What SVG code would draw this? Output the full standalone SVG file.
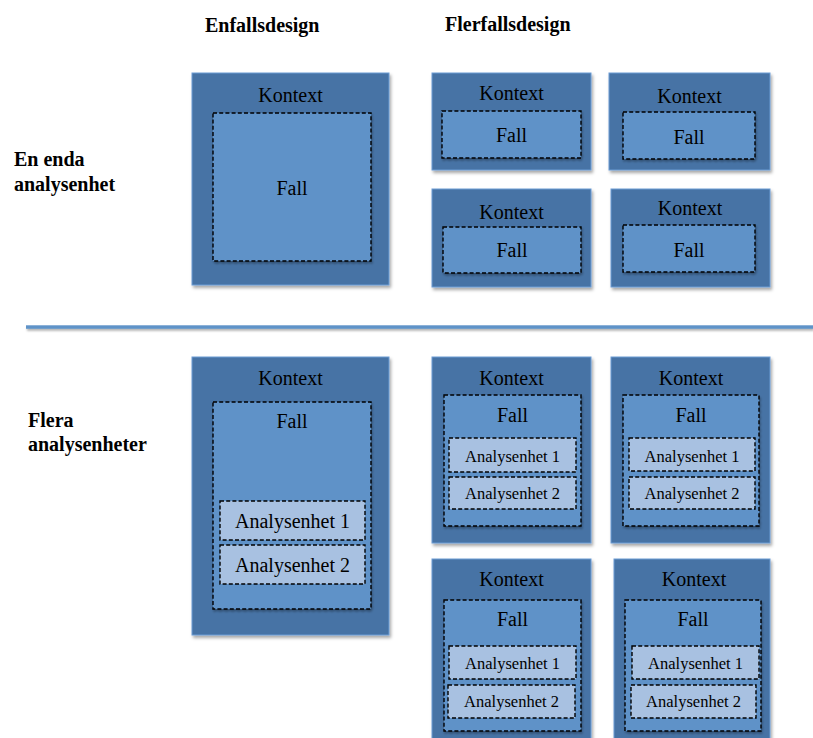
<svg xmlns="http://www.w3.org/2000/svg" width="813" height="738" viewBox="0 0 813 738">
<defs>
<filter id="sh" x="-10%" y="-10%" width="125%" height="125%">
<feDropShadow dx="1.5" dy="2.5" stdDeviation="1.5" flood-color="#000" flood-opacity="0.35"/>
</filter>
<filter id="sh2" x="-10%" y="-10%" width="125%" height="130%">
<feDropShadow dx="1" dy="2" stdDeviation="1.2" flood-color="#000" flood-opacity="0.3"/>
</filter>
<filter id="shl" filterUnits="userSpaceOnUse" x="20" y="318" width="800" height="18">
<feDropShadow dx="1" dy="2" stdDeviation="1.2" flood-color="#000" flood-opacity="0.3"/>
</filter>
</defs>
<style>
.ctx{fill:#4673a5;stroke:#6d9cd3;stroke-width:1;filter:url(#sh)}
.fall{fill:#5e92c8;stroke:#000;stroke-width:1.4;stroke-dasharray:4 2.2;filter:url(#sh2)}
.au{fill:#a8c1e1;stroke:#000;stroke-width:1.4;stroke-dasharray:4 2.2}
.t{font-family:"Liberation Serif","Times New Roman",serif;font-size:20px;fill:#000;text-anchor:middle}
.ts{font-family:"Liberation Serif","Times New Roman",serif;font-size:16.5px;fill:#000;text-anchor:middle}
.h{font-family:"Liberation Serif","Times New Roman",serif;font-size:20px;font-weight:bold;fill:#000}
</style>
<g id="headings">
<text class="h" x="205" y="32">Enfallsdesign</text>
<text class="h" x="445" y="31">Flerfallsdesign</text>
<text class="h" x="14" y="166">En enda</text>
<text class="h" x="14" y="191">analysenhet</text>
<text class="h" x="28" y="427">Flera</text>
<text class="h" x="28" y="451">analysenheter</text>
</g>
<g id="separator">
<rect x="26" y="325.3" width="787" height="3.5" fill="#5f93c8" filter="url(#shl)"/>
</g>
<!-- Top row: single unit -->
<g id="s1">
<rect class="ctx" x="192" y="73" width="197" height="212"/>
<text class="t" x="290.5" y="102">Kontext</text>
<rect class="fall" x="213" y="113" width="158" height="148"/>
<text class="t" x="292" y="195">Fall</text>
</g>
<g id="m1">
<rect class="ctx" x="432" y="73" width="159" height="97"/>
<text class="t" x="511.5" y="100">Kontext</text>
<rect class="fall" x="442" y="111" width="139" height="47"/>
<text class="t" x="511.5" y="142">Fall</text>
</g>
<g id="m2">
<rect class="ctx" x="609" y="73" width="161" height="97"/>
<text class="t" x="689.5" y="103">Kontext</text>
<rect class="fall" x="623" y="112" width="132" height="47"/>
<text class="t" x="689" y="144">Fall</text>
</g>
<g id="m3">
<rect class="ctx" x="432" y="189" width="159" height="98"/>
<text class="t" x="511.5" y="219">Kontext</text>
<rect class="fall" x="443" y="227" width="138" height="46"/>
<text class="t" x="512" y="257">Fall</text>
</g>
<g id="m4">
<rect class="ctx" x="611" y="189" width="159" height="98"/>
<text class="t" x="690" y="215">Kontext</text>
<rect class="fall" x="623" y="225" width="132" height="47"/>
<text class="t" x="689" y="257">Fall</text>
</g>
<!-- Bottom row: multiple units -->
<g id="s2">
<rect class="ctx" x="192" y="357" width="197" height="278"/>
<text class="t" x="290.5" y="385">Kontext</text>
<rect class="fall" x="213" y="402" width="158" height="207"/>
<text class="t" x="292" y="428">Fall</text>
<rect class="au" x="220" y="501" width="145" height="39"/>
<text class="t" x="292.5" y="528">Analysenhet 1</text>
<rect class="au" x="220" y="545" width="145" height="39"/>
<text class="t" x="292.5" y="572">Analysenhet 2</text>
</g>
<g id="m5">
<rect class="ctx" x="432" y="357" width="159" height="186"/>
<text class="t" x="511.5" y="385">Kontext</text>
<rect class="fall" x="444" y="395" width="137" height="131"/>
<text class="t" x="512.5" y="422">Fall</text>
<rect class="au" x="449" y="438" width="127" height="34"/>
<text class="ts" x="512.5" y="462">Analysenhet 1</text>
<rect class="au" x="449" y="477" width="127" height="32"/>
<text class="ts" x="512.5" y="499">Analysenhet 2</text>
</g>
<g id="m6">
<rect class="ctx" x="611" y="357" width="159" height="186"/>
<text class="t" x="691" y="385">Kontext</text>
<rect class="fall" x="623" y="395" width="136" height="131"/>
<text class="t" x="691" y="422">Fall</text>
<rect class="au" x="629" y="438" width="126" height="33"/>
<text class="ts" x="692" y="462">Analysenhet 1</text>
<rect class="au" x="629" y="477" width="126" height="32"/>
<text class="ts" x="692" y="499">Analysenhet 2</text>
</g>
<g id="m7">
<rect class="ctx" x="432" y="559" width="159" height="190"/>
<text class="t" x="511.5" y="586">Kontext</text>
<rect class="fall" x="444" y="600" width="137" height="131"/>
<text class="t" x="512.5" y="626">Fall</text>
<rect class="au" x="449" y="646" width="127" height="33"/>
<text class="ts" x="512.5" y="669">Analysenhet 1</text>
<rect class="au" x="448" y="685" width="127" height="33"/>
<text class="ts" x="511.5" y="707">Analysenhet 2</text>
</g>
<g id="m8">
<rect class="ctx" x="614" y="559" width="156" height="190"/>
<text class="t" x="694" y="586">Kontext</text>
<rect class="fall" x="625" y="600" width="136" height="131"/>
<text class="t" x="693" y="626">Fall</text>
<rect class="au" x="632" y="646" width="127" height="33"/>
<text class="ts" x="695.5" y="669">Analysenhet 1</text>
<rect class="au" x="631" y="685" width="125" height="33"/>
<text class="ts" x="693.5" y="707">Analysenhet 2</text>
</g>
</svg>
